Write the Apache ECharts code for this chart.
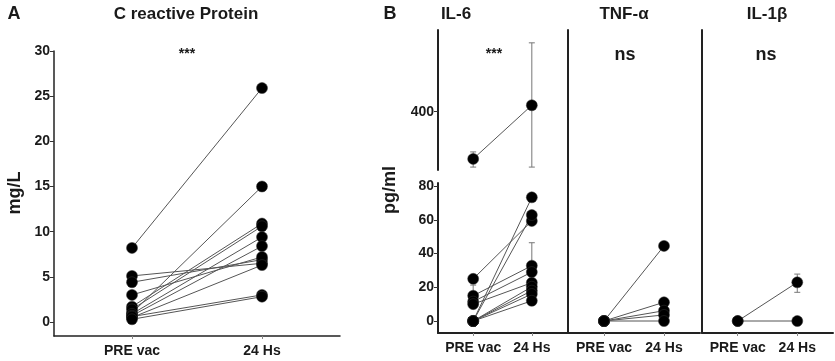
<!DOCTYPE html>
<html>
<head>
<meta charset="utf-8">
<script src="https://cdn.jsdelivr.net/npm/echarts@6/dist/echarts.min.js"></script>
<style>
  html, body { margin: 0; padding: 0; background: #fff; }
  #chart { width: 835px; height: 361px; }
</style>
</head>
<body>
<div id="chart"></div>
<script>
// x groups
const groups = ['PRE vac', '24 Hs'];

// A: C reactive protein (mg/L), one entry per subject
const crpPre = [8.2, 5.1, 4.4, 3.0, 1.0, 1.7, 1.4, 0.9, 0.7, 0.5, 0.6, 0.3];
const crp24 = [25.9, 6.5, 6.9, 7.2, 15.0, 10.9, 10.6, 9.4, 8.4, 6.3, 3.0, 2.8];
const crpTicks = [0, 5, 10, 15, 20, 25, 30];

// B: IL-6 (pg/ml) upper (broken) part
const il6HighPre = [319];
const il6High24 = [411];
const il6HighErrLow = [305, 305];
const il6HighErrHigh = [331, 518];
const il6HighTicks = [400];

// B: IL-6 lower part
const il6Pre = [25, 15, 11.5, 10, 0, 0, 0, 0, 0, 0];
const il624 = [59.3, 32.8, 29, 22.7, 73.3, 62.8, 20.3, 18, 16, 12];
const il6ErrLow = [8.7, 19.6];
const il6ErrHigh = [21.3, 46.4];
const il6Ticks = [0, 20, 40, 60, 80];

// B: TNF-alpha
const tnfPre = [0, 0, 0, 0, 0];
const tnf24 = [44.5, 11.1, 6.1, 3.6, 0];

// B: IL-1beta
const il1Pre = [0, 0];
const il124 = [22.9, 0];
const il1ErrLow = [null, 17.0];
const il1ErrHigh = [null, 27.8];

const FONT = 'Liberation Sans, Arial, sans-serif';
const TXT = '#1a1a1a';

let chart = echarts.init(document.getElementById('chart'));

function pairSeries(pre, post, gi) {
  return pre.map((v, i) => ({
    type: 'line',
    xAxisIndex: gi,
    yAxisIndex: gi,
    data: [[1, v], [2, post[i]]],
    symbol: 'circle',
    symbolSize: 11,
    itemStyle: { color: '#000', borderColor: '#333', borderWidth: 0.5 },
    lineStyle: { color: '#555', width: 1 },
    z: 3,
    silent: true
  }));
}

function errSeries(lows, highs, gi) {
  let data = [];
  lows.forEach((lo, i) => {
    if (lo != null) data.push([i + 1, lo, highs[i]]);
  });
  return {
    type: 'custom',
    xAxisIndex: gi,
    yAxisIndex: gi,
    z: 2,
    silent: true,
    data: data,
    renderItem: function (params, api) {
      let a = api.coord([api.value(0), api.value(1)]);
      let b = api.coord([api.value(0), api.value(2)]);
      let w = 3;
      let st = { stroke: '#777', lineWidth: 1 };
      return {
        type: 'group',
        children: [
          { type: 'line', shape: { x1: a[0], y1: a[1], x2: b[0], y2: b[1] }, style: st },
          { type: 'line', shape: { x1: a[0] - w, y1: a[1], x2: a[0] + w, y2: a[1] }, style: st },
          { type: 'line', shape: { x1: b[0] - w, y1: b[1], x2: b[0] + w, y2: b[1] }, style: st }
        ]
      };
    }
  };
}

function xAx(gi, show, lineW) {
  return {
    type: 'value',
    gridIndex: gi,
    min: 0.4,
    max: 2.6,
    show: show,
    splitLine: { show: false },
    axisLine: { show: true, onZero: false, lineStyle: { color: '#222', width: lineW } },
    axisTick: { show: true, customValues: [1, 2], length: 3, lineStyle: { color: '#888' } },
    axisLabel: {
      customValues: [1, 2],
      formatter: v => groups[Math.round(v) - 1],
      color: TXT, fontFamily: FONT, fontWeight: 'bold', fontSize: 14, margin: 8
    }
  };
}

function yAx(gi, min, max, ticks, lineW) {
  let has = ticks.length > 0;
  return {
    type: 'value',
    gridIndex: gi,
    min: min,
    max: max,
    splitLine: { show: false },
    axisLine: { show: true, onZero: false, lineStyle: { color: '#222', width: lineW } },
    axisTick: { show: has, customValues: ticks, length: 4, lineStyle: { color: '#333' } },
    axisLabel: {
      show: has,
      customValues: ticks,
      color: TXT, fontFamily: FONT, fontWeight: 'bold', fontSize: 14, margin: 4
    }
  };
}

function txt(x, y, s, size, rot) {
  return {
    type: 'text',
    x: x, y: y,
    rotation: rot || 0,
    style: {
      text: s, fill: TXT, font: 'bold ' + size + 'px ' + FONT,
      textAlign: 'center', textVerticalAlign: 'middle'
    }
  };
}

let option = {
  animation: false,
  grid: [
    { left: 54, top: 51, width: 286, height: 285 },
    { left: 438, top: 30, width: 129, height: 140 },
    { left: 438, top: 183, width: 129, height: 150 },
    { left: 568, top: 30, width: 132, height: 303 },
    { left: 702, top: 30, width: 131, height: 303 }
  ],
  xAxis: [
    xAx(0, true, 1.5),
    xAx(1, false, 2),
    xAx(2, true, 2),
    xAx(3, true, 2),
    xAx(4, true, 2)
  ],
  yAxis: [
    yAx(0, -1.55, 30, crpTicks, 1.5),
    yAx(1, 300, 540, il6HighTicks, 2),
    yAx(2, -7.1, 81.8, il6Ticks, 2),
    yAx(3, -7.1, 172.4, [], 2),
    yAx(4, -7.1, 172.4, [], 2)
  ],
  graphic: [
    txt(14, 14, 'A', 18),
    txt(186, 14, 'C reactive Protein', 17),
    txt(187, 54, '***', 14),
    txt(15, 193, 'mg/L', 18, Math.PI / 2),
    txt(390, 14, 'B', 18),
    txt(456, 14, 'IL-6', 17),
    txt(494, 54, '***', 14),
    txt(390, 190, 'pg/ml', 18, Math.PI / 2),
    txt(624, 14, 'TNF-α', 17),
    txt(625, 55, 'ns', 18),
    txt(767, 14, 'IL-1β', 17),
    txt(766, 55, 'ns', 18)
  ],
  series: [].concat(
    pairSeries(crpPre, crp24, 0),
    [errSeries(il6HighErrLow, il6HighErrHigh, 1)],
    pairSeries(il6HighPre, il6High24, 1),
    [errSeries(il6ErrLow, il6ErrHigh, 2)],
    pairSeries(il6Pre, il624, 2),
    pairSeries(tnfPre, tnf24, 3),
    [errSeries(il1ErrLow, il1ErrHigh, 4)],
    pairSeries(il1Pre, il124, 4)
  )
};

chart.setOption(option);
</script>
</body>
</html>
